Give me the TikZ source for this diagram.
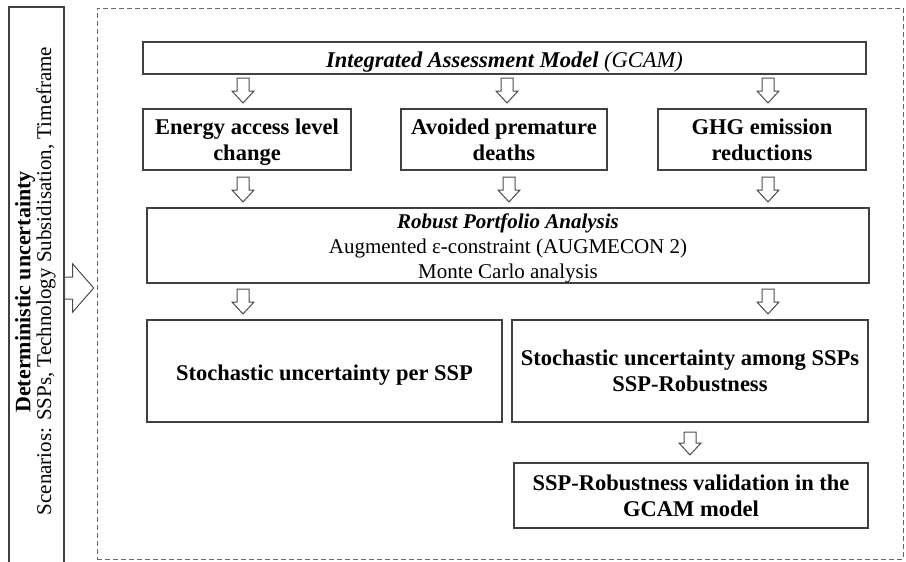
\documentclass[tikz,border=0pt]{standalone}
\usepackage{fontspec}
\setmainfont{Liberation Serif}
\tikzset{
  line/.style={draw=black!75, line width=1.4pt},
  box/.style={line, fill=white, align=center, inner sep=2pt,
    font=\fontsize{21.5}{26}\selectfont,
    execute at begin node=\strut, execute at end node=\strut},
  boxtext/.style={align=center, inner sep=0pt, yshift=-4pt,
    execute at begin node=\strut, execute at end node=\strut},
  boldbox/.style={box, font=\fontsize{22.5}{26}\selectfont\bfseries},
  arrowline/.style={draw=black!70, line width=1pt, fill=white, line join=miter},
  pics/darrow/.style={code={
    \path[arrowline] (-6,0) -- (6,0) -- (6,#1-12) -- (11,#1-12) -- (0,#1)
      -- (-11,#1-12) -- (-6,#1-12) -- cycle;}},
  pics/rarrow/.style={code={
    \path[arrowline] (0,-11) -- (#1-21,-11) -- (#1-21,-24) -- (#1,0)
      -- (#1-21,24) -- (#1-21,11) -- (0,11) -- cycle;}},
  sidetext/.style={rotate=90, inner sep=0pt, font=\fontsize{21}{24}\selectfont},
  bigtext/.style={boxtext, font=\fontsize{22.5}{26}\selectfont\bfseries},
}
\begin{document}
\begin{tikzpicture}[x=1pt,y=-1pt]
\useasboundingbox (0,0) rectangle (906,562);
% dashed frame
\node[draw=black!60, dash pattern=on 5pt off 3pt, line width=1pt, minimum width=806pt, minimum height=551pt, inner sep=0pt] (frame) at (500,283.5) {};
% left box
\node[line, minimum width=55pt, minimum height=556pt, inner sep=0pt] (left) at (36.5,285) {};
\node[sidetext, font=\fontsize{22}{24}\selectfont\bfseries] (lt1) at (25,292) {Deterministic uncertainty};
\node[sidetext] (lt2) at (46,281) {Scenarios: SSPs, Technology Subsidisation, Timeframe};
\pic (la) at (left.east |- 0,288) {rarrow=29};
% boxes
\node[line, minimum width=723pt, minimum height=32pt] (iam) at (504.5,58) {};
\node[line, minimum width=208pt, minimum height=61pt] (energy) at (247,139.5) {};
\node[line, minimum width=206pt, minimum height=61pt] (avoid) at (504,139.5) {};
\node[line, minimum width=208pt, minimum height=61pt] (ghg) at (762,139.5) {};
\node[line, minimum width=722pt, minimum height=75pt] (robust) at (508,245.5) {};
\node[line, minimum width=355pt, minimum height=102pt] (stoch) at (324.5,371) {};
\node[line, minimum width=356pt, minimum height=102pt] (among) at (690,371) {};
\node[line, minimum width=354pt, minimum height=65pt] (valid) at (691,495.5) {};
% texts
\node[boxtext, font=\fontsize{22.5}{26}\selectfont] (iamt) at (iam.center)
  {{\bfseries\itshape Integrated Assessment Model} {\itshape (GCAM)}};
\node[bigtext] (energyt) at (energy.center) {Energy access level\\change};
\node[bigtext] (avoidt) at (avoid.center) {Avoided premature\\deaths};
\node[bigtext] (ghgt) at (ghg.center) {GHG emission\\reductions};
\node[boxtext, font=\fontsize{21}{25}\selectfont] (robustt) at (robust.center)
  {{\bfseries\itshape Robust Portfolio Analysis}\\Augmented ε-constraint (AUGMECON 2)\\Monte Carlo analysis};
\node[bigtext] (stocht) at (stoch.center) {Stochastic uncertainty per SSP};
\node[bigtext] (amongt) at (among.center) {Stochastic uncertainty among SSPs\\SSP-Robustness};
\node[bigtext] (validt) at (valid.center) {SSP-Robustness validation in the\\GCAM model};
% arrows
\pic (a1) at (243,78) {darrow=25};
\pic (a2) at (507,78) {darrow=25};
\pic (a3) at (768,78) {darrow=25};
\pic (b1) at (243,177) {darrow=25};
\pic (b2) at (509,177) {darrow=25};
\pic (b3) at (768,177) {darrow=25};
\pic (c1) at (243,289) {darrow=25};
\pic (c2) at (768,289) {darrow=25};
\pic (d1) at (690,432) {darrow=23};
\end{tikzpicture}
\end{document}
